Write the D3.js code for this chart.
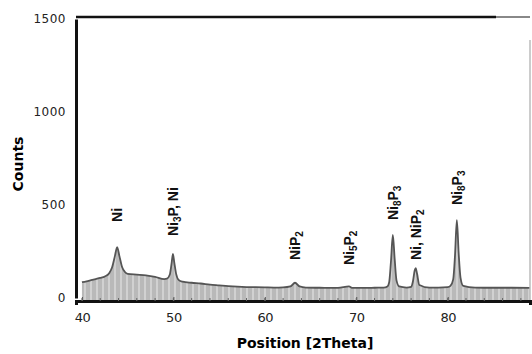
<!DOCTYPE html>
<html>
<head>
<meta charset="utf-8">
<script src="https://cdn.jsdelivr.net/npm/d3@7"></script>
<style>
  body { margin: 0; background: #fff; }
  svg text { font-family: "DejaVu Sans", sans-serif; }
  .tick text { fill: #222; }
  .peak-label { font-family: "Liberation Sans", Arial, sans-serif !important; font-weight: bold; fill: #111; }
</style>
</head>
<body>
<svg id="chart" width="532" height="354"></svg>
<script>
"use strict";

// 2Theta positions and counts
const twoTheta = [
  40, 40.5, 41, 41.5, 42, 42.5, 43, 43.3, 43.6, 43.85, 44.1, 44.4, 44.7, 45,
  46, 47, 48, 49, 49.3, 49.6, 49.8, 49.95, 50.1, 50.3, 50.6, 51, 52, 53, 54,
  55, 56, 57, 58, 59, 60, 61, 62, 62.8, 63.3, 63.8, 64.5, 66, 68, 69.2, 69.6,
  71, 72, 73, 73.4, 73.6, 73.8, 74.0, 74.2, 74.4, 74.7, 75.5, 76.0, 76.2,
  76.4, 76.5, 76.65, 76.9, 78, 79, 80, 80.3, 80.6, 80.8, 81.0, 81.2, 81.4,
  81.7, 83, 85, 87, 89,
];
const counts = [
  85, 90, 96, 102, 108, 116, 135, 165, 225, 274, 225, 165, 140, 130,
  126, 122, 114, 102, 104, 125, 185, 237, 190, 130, 96, 88, 82, 78, 72,
  68, 64, 61, 59, 58, 57, 56, 57, 62, 82, 62, 56, 55, 54, 62, 54,
  54, 55, 56, 62, 85, 200, 339, 210, 95, 62, 56, 60, 90,
  150, 161, 130, 70, 56, 56, 58, 65, 100, 230, 419, 240, 110,
  65, 56, 55, 55, 54,
];

// phase labels: [text, isSubscript] parts
const labelTheta = [43.85, 50.0, 63.3, 69.2, 74.0, 76.5, 81.0];
const labelParts = [
  [["Ni", 0]],
  [["Ni", 0], ["3", 1], ["P, Ni", 0]],
  [["NiP", 0], ["2", 1]],
  [["Ni", 0], ["5", 1], ["P", 0], ["2", 1]],
  [["Ni", 0], ["8", 1], ["P", 0], ["3", 1]],
  [["Ni, NiP", 0], ["2", 1]],
  [["Ni", 0], ["8", 1], ["P", 0], ["3", 1]],
];
const labelBase = [409, 333, 204, 177, 419, 204, 500];

const yTicks = [0, 500, 1000, 1500];
const xTicks = [40, 50, 60, 70, 80];

const svg = d3.select("#chart");
const data = twoTheta.map((t, i) => ({ t, c: counts[i] }));

const x = d3.scaleLinear().domain([39.35, 89]).range([76, 530]);
const y = d3.scaleLinear().domain([0, 1500]).range([298, 19]);

const area = d3.area()
  .x((d) => x(d.t))
  .y0(y(0) + 2)
  .y1((d) => y(d.c))
  .curve(d3.curveMonotoneX);
const line = d3.line()
  .x((d) => x(d.t))
  .y((d) => y(d.c))
  .curve(d3.curveMonotoneX);

svg.append("clipPath").attr("id", "fill-clip")
  .append("path").datum(data).attr("d", area);

// filled trace
svg.append("path").datum(data)
  .attr("d", area)
  .attr("fill", "#b9b9b9");

// scan stripes inside the fill
svg.append("g").attr("clip-path", "url(#fill-clip)")
  .selectAll("line").data(d3.range(79, 530, 6)).join("line")
  .attr("x1", (d) => d).attr("x2", (d) => d)
  .attr("y1", y(450)).attr("y2", y(0) + 2)
  .attr("stroke", "#dcdcdc")
  .attr("stroke-width", 2)
  .attr("opacity", 0.7);

svg.append("path").datum(data)
  .attr("d", line)
  .attr("fill", "none")
  .attr("stroke", "#555")
  .attr("stroke-width", 1.8);

// frame
svg.append("line")
  .attr("x1", 76).attr("x2", 496).attr("y1", 17).attr("y2", 17)
  .attr("stroke", "#111").attr("stroke-width", 2.5);
svg.append("line")
  .attr("x1", 496).attr("x2", 530).attr("y1", 17).attr("y2", 17)
  .attr("stroke", "#888").attr("stroke-width", 2);
svg.append("line")
  .attr("x1", 530).attr("x2", 530).attr("y1", 40).attr("y2", 300)
  .attr("stroke", "#bbb").attr("stroke-width", 1.5);

// axes
const xAxis = d3.axisBottom(x)
  .tickValues(xTicks)
  .tickSize(4)
  .tickFormat((d) => d.toString());
const xg = svg.append("g")
  .attr("transform", `translate(0,${y(0) + 3})`)
  .call(xAxis);
xg.select(".domain").attr("stroke", "#111").attr("stroke-width", 3);
xg.selectAll(".tick line").attr("stroke", "#555").attr("y2", -4);
xg.selectAll(".tick text").attr("dy", "1.1em").attr("font-size", 13).attr("letter-spacing", -0.5);

// minor ticks on x axis
xg.append("g").selectAll("line").data(d3.range(40, 89, 2)).join("line")
  .attr("x1", (d) => x(d)).attr("x2", (d) => x(d))
  .attr("y1", 0).attr("y2", -3)
  .attr("stroke", "#666");

const yAxis = d3.axisLeft(y)
  .tickValues(yTicks)
  .tickSize(0)
  .tickPadding(10)
  .tickFormat((d) => d.toString());
const yg = svg.append("g")
  .attr("transform", "translate(76,0)")
  .call(yAxis);
yg.select(".domain").attr("stroke", "#111").attr("stroke-width", 3);
yg.selectAll(".tick text").attr("font-size", 12).attr("letter-spacing", 0.5);

// peak labels
const labels = svg.append("g");
labelTheta.forEach((t, i) => {
  const txt = labels.append("text")
    .attr("class", "peak-label")
    .attr("transform", `translate(${x(t) + 5},${y(labelBase[i])}) rotate(-90)`);
  let shifted = 0;
  labelParts[i].forEach(([s, sub]) => {
    const dy = sub ? 3 - shifted : -shifted;
    shifted = sub ? 3 : 0;
    txt.append("tspan")
      .attr("dy", dy)
      .attr("font-size", sub ? 10 : 14)
      .text(s);
  });
});

// titles
svg.append("text")
  .attr("transform", "translate(23,164) rotate(-90)")
  .attr("text-anchor", "middle")
  .attr("font-size", 14)
  .attr("font-weight", "bold")
  .text("Counts");

svg.append("text")
  .attr("x", 305)
  .attr("y", 348)
  .attr("text-anchor", "middle")
  .attr("font-size", 14)
  .attr("font-weight", "bold")
  .text("Position [2Theta]");
</script>
</body>
</html>
